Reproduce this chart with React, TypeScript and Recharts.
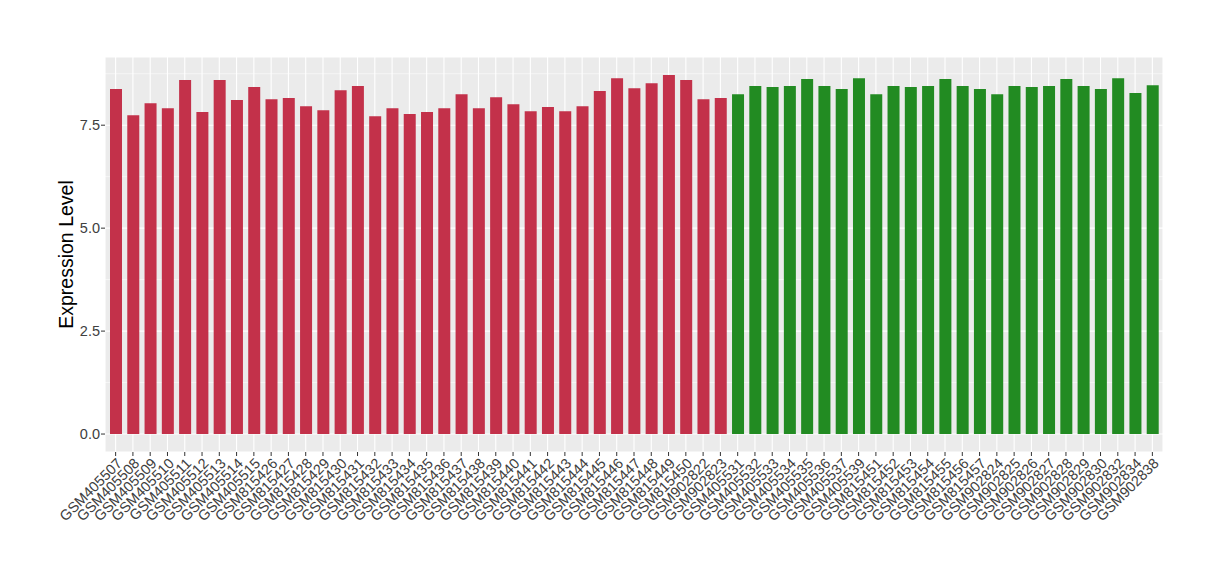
import { BarChart, Bar, Cell, XAxis, YAxis, CartesianGrid } from "recharts";

const redSamples = [
  "GSM405507", "GSM405508", "GSM405509", "GSM405510", "GSM405511", "GSM405512",
  "GSM405513", "GSM405514", "GSM405515", "GSM815426", "GSM815427", "GSM815428",
  "GSM815429", "GSM815430", "GSM815431", "GSM815432", "GSM815433", "GSM815434",
  "GSM815435", "GSM815436", "GSM815437", "GSM815438", "GSM815439", "GSM815440",
  "GSM815441", "GSM815442", "GSM815443", "GSM815444", "GSM815445", "GSM815446",
  "GSM815447", "GSM815448", "GSM815449", "GSM815450", "GSM902822", "GSM902823",
];
const redValues = [
  8.38, 7.74, 8.03, 7.91, 8.6, 7.82, 8.6, 8.11, 8.43, 8.13, 8.16, 7.96,
  7.86, 8.35, 8.45, 7.72, 7.91, 7.77, 7.82, 7.91, 8.25, 7.91, 8.18, 8.01,
  7.84, 7.94, 7.84, 7.96, 8.33, 8.64, 8.4, 8.52, 8.72, 8.6, 8.13, 8.16,
];

const greenSamples = [
  "GSM405531", "GSM405532", "GSM405533", "GSM405534", "GSM405535", "GSM405536",
  "GSM405537", "GSM405539", "GSM815451", "GSM815452", "GSM815453", "GSM815454",
  "GSM815455", "GSM815456", "GSM815457", "GSM902824", "GSM902825", "GSM902826",
  "GSM902827", "GSM902828", "GSM902829", "GSM902830", "GSM902832", "GSM902834",
  "GSM902838",
];
const greenValues = [
  8.25, 8.45, 8.43, 8.45, 8.62, 8.45, 8.38, 8.64, 8.25, 8.45, 8.43, 8.45,
  8.62, 8.45, 8.38, 8.25, 8.45, 8.43, 8.45, 8.62, 8.45, 8.38, 8.64, 8.28,
  8.47,
];

const yTicks = [0, 2.5, 5, 7.5];
const yMinorTicks = [1.25, 3.75, 6.25, 8.75];

const RED = "#C3314A";
const GREEN = "#228B22";
const FONT = "'Liberation Sans', Arial, sans-serif";

const data = [
  ...redSamples.map((s, i) => ({ name: s, value: redValues[i], color: RED })),
  ...greenSamples.map((s, i) => ({ name: s, value: greenValues[i], color: GREEN })),
];

const maxVal = Math.max(...redValues, ...greenValues);
const pad = maxVal * 0.05;

const XTick = ({ x, y, payload }: any) => (
  <text
    x={x}
    y={y}
    dy="0.72em"
    textAnchor="end"
    transform={`rotate(-45, ${x}, ${y})`}
    fontSize={14.5}
    fontFamily={FONT}
    fill="#404040"
  >
    {payload.value}
  </text>
);

export default function App() {
  return (
    <div style={{ position: "absolute", left: 0, top: 0, background: "#fff" }}>
      <BarChart
        width={1220}
        height={580}
        data={data}
        margin={{ top: 57, right: 57, bottom: 0, left: 0 }}
      >
        <CartesianGrid fill="#EBEBEB" stroke="#FFFFFF" strokeWidth={1.1} />
        <CartesianGrid
          vertical={false}
          horizontalValues={yMinorTicks}
          stroke="#FFFFFF"
          strokeWidth={0.55}
        />
        <XAxis
          dataKey="name"
          interval={0}
          height={128}
          axisLine={false}
          tickSize={4}
          tickLine={{ stroke: "#333333" }}
          tickMargin={1}
          padding={{ left: 2, right: 2 }}
          tick={<XTick />}
        />
        <YAxis
          width={105}
          domain={[-pad, maxVal + pad]}
          ticks={yTicks}
          allowDataOverflow
          axisLine={false}
          tickSize={4}
          tickLine={{ stroke: "#333333" }}
          tickMargin={1}
          tickFormatter={(v: number) => v.toFixed(1)}
          tick={{ fontSize: 14.5, fontFamily: FONT, fill: "#404040" }}
          label={{
            value: "Expression Level",
            angle: -90,
            position: "insideLeft",
            offset: 66,
            style: { fontSize: 19.5, fontFamily: FONT, fill: "#000", textAnchor: "middle" },
          }}
        />
        <Bar dataKey="value" barSize={12} isAnimationActive={false}>
          {data.map((d) => (
            <Cell key={d.name} fill={d.color} />
          ))}
        </Bar>
      </BarChart>
    </div>
  );
}
